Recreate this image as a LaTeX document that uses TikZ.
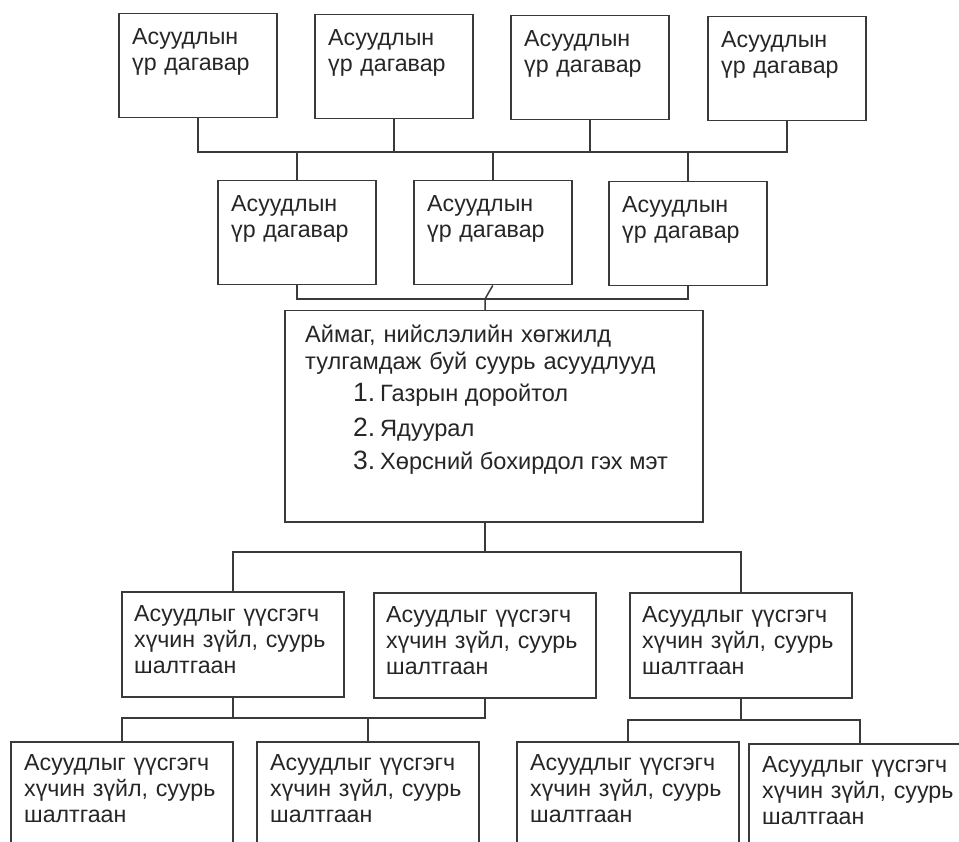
\documentclass[tikz,border=0pt]{standalone}
\usepackage{fontspec}
\setmainfont{Liberation Sans}
\usetikzlibrary{calc}
\definecolor{linec}{HTML}{3A3A3A}
\definecolor{txtc}{HTML}{262626}
\begin{document}
\begin{tikzpicture}[x=1pt,y=-1pt,
  box/.style={draw=linec, line width=1.5pt, inner sep=0pt, anchor=north west},
  small/.style={minimum width=158pt, minimum height=104pt},
  wide/.style={minimum width=222pt, minimum height=105pt},
  tall/.style={minimum width=222pt, minimum height=160pt},
  txt/.style={anchor=base west, inner sep=0pt, text width=300pt, align=left, text=txtc,
    font=\fontsize{23.2}{26}\selectfont},
  item/.style={anchor=base west, inner sep=0pt, text=txtc, font=\fontsize{23.6}{27}\selectfont},
  conn/.style={draw=linec, line width=1.5pt}
]
\useasboundingbox (0,0) rectangle (959,842);
\clip (0,0) rectangle (959,842);
\fill[white] (0,0) rectangle (959,842);

% top row
\node[box,small] (t1) at (118,13) {};
\node[box,small] (t2) at (314,14) {};
\node[box,small] (t3) at (510,15) {};
\node[box,small] (t4) at (707,16) {};
\foreach \n in {t1,t2,t3,t4}
  \node[txt] (\n x) at ($(\n.north west)+(14,32)$) {Асуудлын\\үр дагавар};

% middle row
\node[box,small] (m1) at (217,180) {};
\node[box,small] (m2) at (413,180) {};
\node[box,small] (m3) at (608,181) {};
\foreach \n in {m1,m2,m3}
  \node[txt] (\n x) at ($(\n.north west)+(14,32)$) {Асуудлын\\үр дагавар};

% central box
\node[box, minimum width=418pt, minimum height=211pt] (big) at (284,310) {};
\node[txt, text width=420pt, font=\fontsize{23.6}{27}\selectfont] (bigt) at ($(big.north west)+(21,33)$)
  {Аймаг, нийслэлийн хөгжилд\\тулгамдаж буй суурь асуудлууд};
\node[item] (i1) at ($(big.north west)+(69,92)$) {\makebox[27pt][l]{\fontsize{26.5}{27}\selectfont 1.}Газрын доройтол};
\node[item] (i2) at ($(big.north west)+(69,126)$) {\makebox[27pt][l]{\fontsize{26.5}{27}\selectfont 2.}Ядуурал};
\node[item] (i3) at ($(big.north west)+(69,159)$) {\makebox[27pt][l]{\fontsize{26.5}{27}\selectfont 3.}Хөрсний бохирдол гэх мэт};

% cause row
\node[box,wide] (b1) at (121,591) {};
\node[box,wide] (b2) at (373,592) {};
\node[box,wide] (b3) at (629,592) {};
\foreach \n in {b1,b2,b3}
  \node[txt] (\n x) at ($(\n.north west)+(13,30)$) {Асуудлыг үүсгэгч\\хүчин зүйл, суурь\\шалтгаан};

% lowest row
\node[box,tall] (l1) at (10,741) {};
\node[box,tall] (l2) at (256,741) {};
\node[box,tall] (l3) at (516,741) {};
\node[box,tall] (l4) at (748,743) {};
\foreach \n in {l1,l2,l3,l4}
  \node[txt] (\n x) at ($(\n.north west)+(14,29)$) {Асуудлыг үүсгэгч\\хүчин зүйл, суурь\\шалтгаан};

% helper coordinates
\coordinate (ytop) at (0,152);
\coordinate (ymid) at (0,299);
\coordinate (bigx) at (485,0);
\coordinate (ylow) at (0,552);
\coordinate (yl1) at (0,718);
\coordinate (yl2) at (0,720);

% connectors top -> middle
\draw[conn] (t1.south) -- (t1.south |- ytop) -- (t4.south |- ytop) -- (t4.south);
\draw[conn] (t2.south) -- (t2.south |- ytop);
\draw[conn] (t3.south) -- (t3.south |- ytop);
\draw[conn] (m1.north) -- (m1.north |- ytop);
\draw[conn] (m2.north) -- (m2.north |- ytop);
\draw[conn] (m3.north) -- (m3.north |- ytop);

% middle -> central
\draw[conn] (m1.south) -- (m1.south |- ymid) -- (m3.south |- ymid) -- (m3.south);
\draw[conn] (m2.south) -- (bigx |- ymid) -- (big.north -| bigx);

% central -> causes
\draw[conn] (big.south -| bigx) -- (bigx |- ylow);
\draw[conn] (b1.north) -- (b1.north |- ylow) -- (b3.north |- ylow) -- (b3.north);

% causes -> lowest
\draw[conn] (b1.south) -- (b1.south |- yl1);
\draw[conn] (l1.north) -- (l1.north |- yl1) -- (b2.south |- yl1) -- (b2.south);
\draw[conn] (l2.north) -- (l2.north |- yl1);
\draw[conn] (b3.south) -- (b3.south |- yl2);
\draw[conn] (l3.north) -- (l3.north |- yl2) -- (l4.north |- yl2) -- (l4.north);
\end{tikzpicture}
\end{document}
